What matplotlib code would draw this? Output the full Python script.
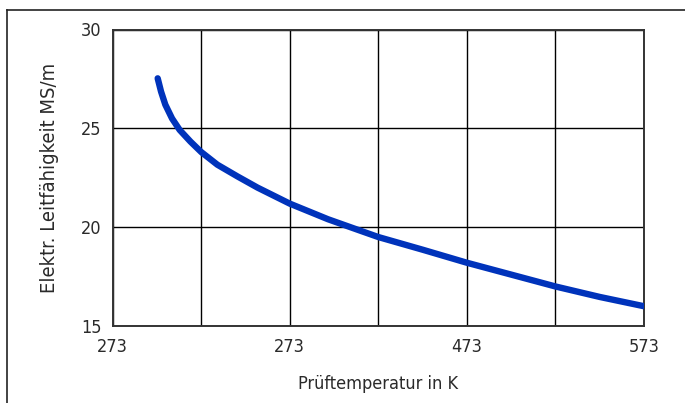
import matplotlib
matplotlib.use("Agg")
import matplotlib.pyplot as plt
from matplotlib.lines import Line2D

# values
temp_k = [298.4, 300.3, 302.7, 306.5, 310.8, 316.9, 323, 332.1, 343.4, 354.8,
          373, 394.6, 413.5, 423, 448, 473, 498, 523, 548, 573]
leitf = [27.53, 26.86, 26.2, 25.5, 24.92, 24.33, 23.8, 23.16, 22.57, 22.0,
         21.19, 20.4, 19.8, 19.5, 18.86, 18.2, 17.6, 17.0, 16.47, 16.0]

x_ticks = [273, 373, 473, 573]
x_ticklabels = ["273", "273", "473", "573"]
x_grid = [273, 323, 373, 423, 473, 523, 573]
y_ticks = [15, 20, 25, 30]

plt.rcParams["font.family"] = ["DejaVu Sans"]
plt.rcParams["font.stretch"] = "condensed"

fig = plt.figure(figsize=(6.85, 4.03), dpi=100)
ax = fig.add_axes([112.7 / 685, 1 - 326 / 403, (644 - 112.7) / 685, (326 - 29.5) / 403])

ax.plot(temp_k, leitf, color="#0033bb", lw=4.6, solid_capstyle="round",
        solid_joinstyle="round", zorder=3)

ax.set_xlim(273, 573)
ax.set_ylim(15, 30)
ax.set_xticks(x_grid)
ax.set_xticklabels(["" if v not in x_ticks else x_ticklabels[x_ticks.index(v)] for v in x_grid])
ax.set_yticks(y_ticks)
ax.grid(True, color="black", lw=1.0)
ax.tick_params(length=0, labelsize=13, colors="#2a2a2a")
ax.tick_params(axis="x", pad=9)
ax.tick_params(axis="y", pad=8)
for s in ax.spines.values():
    s.set_color("#333333")
    s.set_linewidth(1.4)

ax.set_xlabel("Prüftemperatur in K", fontsize=13, color="#2a2a2a", labelpad=13)
ax.set_ylabel("Elektr. Leitfähigkeit MS/m", fontsize=14.5, color="#2a2a2a", labelpad=16)

# frame lines around the picture (top and left only)
fig.add_artist(Line2D([7 / 685, 1], [1 - 10 / 403] * 2, color="#222222", lw=1.2))
fig.add_artist(Line2D([7 / 685] * 2, [0, 1 - 10 / 403], color="#222222", lw=1.2))

fig.savefig("out.png", dpi=100)
